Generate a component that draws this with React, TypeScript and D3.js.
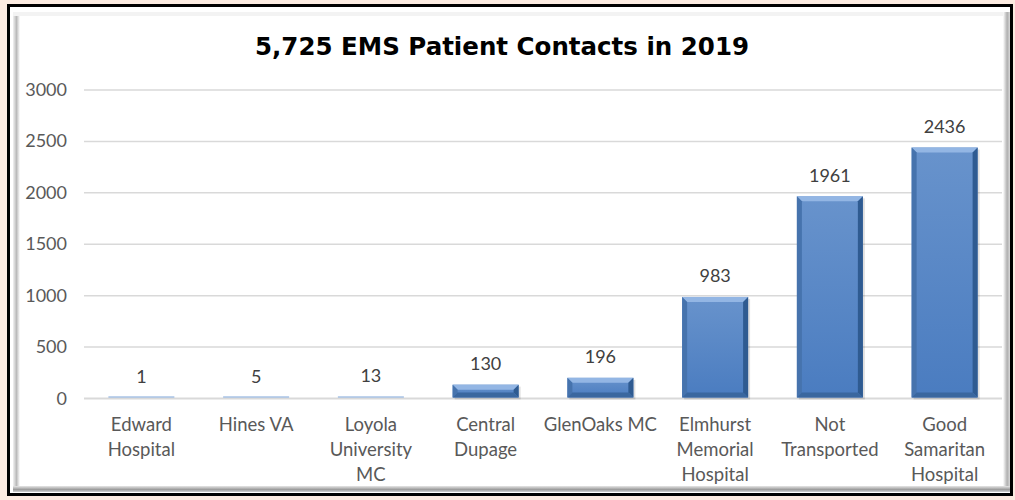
import React, { useRef, useEffect } from 'react';
import * as d3 from 'd3';

// chart data
const title = '5,725 EMS Patient Contacts in 2019';
const categories = [
    'Edward Hospital',
    'Hines VA',
    'Loyola University MC',
    'Central Dupage',
    'GlenOaks MC',
    'Elmhurst Memorial Hospital',
    'Not Transported',
    'Good Samaritan Hospital',
];
// how each category label wraps under the axis
const categoryLines = [
    ['Edward', 'Hospital'],
    ['Hines VA'],
    ['Loyola', 'University', 'MC'],
    ['Central', 'Dupage'],
    ['GlenOaks MC'],
    ['Elmhurst', 'Memorial', 'Hospital'],
    ['Not', 'Transported'],
    ['Good', 'Samaritan', 'Hospital'],
];
const contacts = [1, 5, 13, 130, 196, 983, 1961, 2436];
const yTicks = [0, 500, 1000, 1500, 2000, 2500, 3000];

const W = 1015;
const H = 500;

const App: React.FC = () => {
    const svgRef = useRef<SVGSVGElement | null>(null);

    useEffect(() => {
        const svg = d3.select(svgRef.current);
        svg.selectAll('*').remove();

        const labelFont = 'Lato, "Open Sans", sans-serif';

        const defs = svg.append('defs');

        // bar face gradient
        const face = defs.append('linearGradient')
            .attr('id', 'barFace')
            .attr('x1', 0).attr('y1', 0).attr('x2', 0).attr('y2', 1);
        face.append('stop').attr('offset', '0%').attr('stop-color', '#6893cc');
        face.append('stop').attr('offset', '100%').attr('stop-color', '#4a7cc0');

        // frame bevels
        const leftBevel = defs.append('linearGradient')
            .attr('id', 'leftBevel')
            .attr('x1', 0).attr('y1', 0).attr('x2', 1).attr('y2', 0);
        leftBevel.append('stop').attr('offset', '0%').attr('stop-color', '#f2f2f2');
        leftBevel.append('stop').attr('offset', '50%').attr('stop-color', '#bababa');
        leftBevel.append('stop').attr('offset', '100%').attr('stop-color', '#ffffff');

        const bottomBevel = defs.append('linearGradient')
            .attr('id', 'bottomBevel')
            .attr('x1', 0).attr('y1', 0).attr('x2', 0).attr('y2', 1);
        bottomBevel.append('stop').attr('offset', '0%').attr('stop-color', '#e6e6e6');
        bottomBevel.append('stop').attr('offset', '60%').attr('stop-color', '#9a9a9a');
        bottomBevel.append('stop').attr('offset', '100%').attr('stop-color', '#d0d0d0');

        const rightBevel = defs.append('linearGradient')
            .attr('id', 'rightBevel')
            .attr('x1', 0).attr('y1', 0).attr('x2', 1).attr('y2', 0);
        rightBevel.append('stop').attr('offset', '0%').attr('stop-color', '#ffffff');
        rightBevel.append('stop').attr('offset', '60%').attr('stop-color', '#b0b0b0');
        rightBevel.append('stop').attr('offset', '100%').attr('stop-color', '#d9d9d9');

        // background and frame
        svg.append('rect').attr('width', W).attr('height', H).attr('fill', '#fcebe1');
        svg.append('rect')
            .attr('x', 8.5).attr('y', 5.5)
            .attr('width', 1003).attr('height', 489)
            .attr('fill', '#ffffff')
            .attr('stroke', '#000000')
            .attr('stroke-width', 3);
        svg.append('rect').attr('x', 13).attr('y', 12).attr('width', 7).attr('height', 476).attr('fill', 'url(#leftBevel)');
        svg.append('rect').attr('x', 13).attr('y', 12).attr('width', 993).attr('height', 4).attr('fill', '#f3f3f3');
        svg.append('rect').attr('x', 1003).attr('y', 12).attr('width', 7).attr('height', 478).attr('fill', 'url(#rightBevel)');
        svg.append('rect').attr('x', 13).attr('y', 486).attr('width', 997).attr('height', 6).attr('fill', 'url(#bottomBevel)');

        // scales
        const x = d3.scaleBand<string>()
            .domain(categories)
            .range([84, 1002])
            .paddingInner(0.425)
            .paddingOuter(0.2125);
        const y = d3.scaleLinear().domain([0, 3000]).range([398.5, 90]);

        // title
        svg.append('text')
            .attr('x', 502)
            .attr('y', 55)
            .attr('text-anchor', 'middle')
            .attr('font-family', '"DejaVu Sans", Verdana, sans-serif')
            .attr('font-weight', 'bold')
            .attr('font-size', 24.5)
            .attr('fill', '#000000')
            .text(title);

        // gridlines
        svg.append('g')
            .selectAll('line')
            .data(yTicks)
            .enter()
            .append('line')
            .attr('x1', 84)
            .attr('x2', 1002)
            .attr('y1', d => y(d))
            .attr('y2', d => y(d))
            .attr('stroke', '#d9d9d9')
            .attr('stroke-width', d => (d === 0 ? 2 : 1.5));

        // y tick labels
        svg.append('g')
            .selectAll('text')
            .data(yTicks)
            .enter()
            .append('text')
            .attr('x', 67)
            .attr('y', d => y(d) + 6)
            .attr('text-anchor', 'end')
            .attr('font-family', labelFont)
            .attr('font-size', 18)
            .attr('fill', '#595959')
            .text(d => d);

        // bars with bevel
        const bars = svg.append('g');
        categories.forEach((cat, i) => {
            const v = contacts[i];
            const bx = x(cat) as number;
            const bw = x.bandwidth();
            const top = y(v);
            const bh = Math.max(1, y(0) - top - 0.5);
            const by = y(0) - 1 - bh;
            const b = Math.min(5, bh / 2);
            const g = bars.append('g');

            if (bh > 3) {
                g.append('rect')
                    .attr('x', bx + 2).attr('y', by + 2)
                    .attr('width', bw).attr('height', bh)
                    .attr('fill', '#000000').attr('opacity', 0.12);
            }
            g.append('rect')
                .attr('x', bx).attr('y', by)
                .attr('width', bw).attr('height', bh)
                .attr('fill', bh > 3 ? 'url(#barFace)' : '#7ea6da');
            if (bh > 3) {
                g.append('polygon')
                    .attr('points', `${bx},${by} ${bx + bw},${by} ${bx + bw - b},${by + b} ${bx + b},${by + b}`)
                    .attr('fill', '#93b6e4');
                g.append('polygon')
                    .attr('points', `${bx},${by} ${bx + b},${by + b} ${bx + b},${by + bh - b} ${bx},${by + bh}`)
                    .attr('fill', '#4673ad');
                g.append('polygon')
                    .attr('points', `${bx + bw},${by} ${bx + bw - b},${by + b} ${bx + bw - b},${by + bh - b} ${bx + bw},${by + bh}`)
                    .attr('fill', '#2f5b91');
                g.append('polygon')
                    .attr('points', `${bx},${by + bh} ${bx + b},${by + bh - b} ${bx + bw - b},${by + bh - b} ${bx + bw},${by + bh}`)
                    .attr('fill', '#3a679f');
            }
        });

        // value labels
        svg.append('g')
            .selectAll('text')
            .data(contacts)
            .enter()
            .append('text')
            .attr('x', (d, i) => (x(categories[i]) as number) + x.bandwidth() / 2)
            .attr('y', d => y(d) - 15)
            .attr('text-anchor', 'middle')
            .attr('font-family', labelFont)
            .attr('font-size', 18)
            .attr('fill', '#404040')
            .text(d => d);

        // category labels
        const catG = svg.append('g');
        categories.forEach((cat, i) => {
            const cx = (x(cat) as number) + x.bandwidth() / 2;
            const t = catG.append('text')
                .attr('x', cx)
                .attr('y', 431)
                .attr('text-anchor', 'middle')
                .attr('font-family', labelFont)
                .attr('font-size', 18.5)
                .attr('fill', '#595959');
            categoryLines[i].forEach((line, j) => {
                t.append('tspan')
                    .attr('x', cx)
                    .attr('dy', j === 0 ? 0 : 25)
                    .text(line);
            });
        });
    }, []);

    return (
        <svg
            ref={svgRef}
            width={W}
            height={H}
            style={{ position: 'fixed', top: 0, left: 0, display: 'block' }}
        ></svg>
    );
};

export default App;
